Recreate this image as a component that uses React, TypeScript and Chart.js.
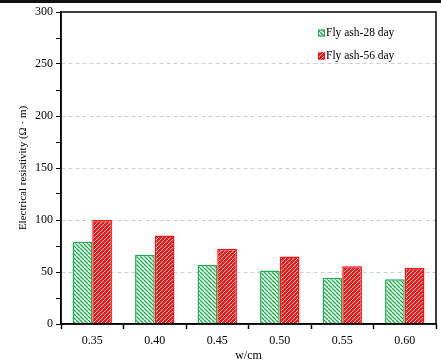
import React, { useEffect, useRef } from "react";
import { Chart, registerables } from "chart.js";

Chart.register(...registerables);

const categories = ["0.35", "0.40", "0.45", "0.50", "0.55", "0.60"];
const day28 = [79, 66.5, 57, 51.5, 44.5, 43];
const day56 = [100, 85, 72, 65, 55.5, 54];
const seriesLabels = ["Fly ash-28 day", "Fly ash-56 day"];
const yMin = 0;
const yMax = 300;
const yStep = 25;
const yLabelStep = 50;
const xTitle = "w/cm";
const yTitle = "Electrical resistivity (Ω · m)";

const GREEN = "#1eae4e";
const RED = "#ff1010";
const FONT = "'Liberation Serif', 'Times New Roman', serif";

function makePattern(bg: string, fg: string, dir: "\\" | "/", lw: number) {
  const c = document.createElement("canvas");
  c.width = 4;
  c.height = 4;
  const ctx = c.getContext("2d")!;
  ctx.fillStyle = bg;
  ctx.fillRect(0, 0, 4, 4);
  ctx.strokeStyle = fg;
  ctx.lineWidth = lw;
  ctx.beginPath();
  for (const o of [-4, 0, 4]) {
    if (dir === "\\") {
      ctx.moveTo(o, 0);
      ctx.lineTo(o + 4, 4);
    } else {
      ctx.moveTo(o, 4);
      ctx.lineTo(o + 4, 0);
    }
  }
  ctx.stroke();
  return ctx.createPattern(c, "repeat")!;
}

export default function App() {
  const ref = useRef<HTMLCanvasElement | null>(null);

  useEffect(() => {
    document.body.style.margin = "0";
    const canvas = ref.current!;
    const greenPat = makePattern("#f2fbf5", GREEN, "\\", 1.3);
    const redPat = makePattern(RED, "#ffffff", "/", 0.9);
    const fills = [greenPat, redPat];
    const borders = [GREEN, RED];

    const framePlugin = {
      id: "frameLegend",
      afterDraw(chart: any) {
        const { ctx, chartArea } = chart;
        const { left, right, top, bottom } = chartArea;
        ctx.save();
        ctx.strokeStyle = "#000";
        ctx.lineWidth = 1.5;
        ctx.strokeRect(left, top, right - left, bottom - top);
        // legend
        const lx = left + 257;
        const ys = [top + 21, top + 44];
        ctx.font = `11.5px ${FONT}`;
        ctx.textBaseline = "middle";
        ctx.textAlign = "left";
        seriesLabels.forEach((lab, i) => {
          const y = ys[i];
          ctx.fillStyle = fills[i];
          ctx.fillRect(lx, y - 3.5, 7, 7);
          ctx.strokeStyle = borders[i];
          ctx.lineWidth = 1;
          ctx.strokeRect(lx + 0.5, y - 3, 6, 6);
          ctx.fillStyle = "#000";
          ctx.fillText(lab, lx + 8, y);
        });
        ctx.restore();
      },
    };

    const chart = new Chart(canvas, {
      type: "bar",
      data: {
        labels: categories,
        datasets: [
          {
            label: seriesLabels[0],
            data: day28,
            backgroundColor: greenPat as any,
            borderColor: GREEN,
            borderWidth: 1.5,
          },
          {
            label: seriesLabels[1],
            data: day56,
            backgroundColor: redPat as any,
            borderColor: RED,
            borderWidth: 1.5,
          },
        ],
      },
      options: {
        animation: false,
        responsive: false,
        maintainAspectRatio: false,
        layout: { padding: { top: 12, right: 5, left: 0, bottom: 0 } },
        datasets: { bar: { categoryPercentage: 0.63, barPercentage: 1 } },
        plugins: { legend: { display: false }, tooltip: { enabled: false } },
        scales: {
          x: {
            type: "category",
            offset: true,
            grid: {
              offset: true,
              drawOnChartArea: false,
              drawTicks: true,
              tickLength: 5,
              tickColor: "#000",
              tickWidth: 1.5,
            },
            border: { display: true, color: "#000", width: 1.5 },
            ticks: { color: "#000", font: { family: FONT, size: 12 }, padding: 5 },
            title: {
              display: true,
              text: xTitle,
              color: "#000",
              font: { family: FONT, size: 12, lineHeight: 1.1 },
              padding: { top: 0, bottom: 0 },
            },
            afterFit: (s: any) => {
              s.height = 38;
            },
          },
          y: {
            min: yMin,
            max: yMax,
            grid: {
              drawOnChartArea: true,
              drawTicks: true,
              tickLength: 5,
              tickColor: "#000",
              tickWidth: 1,
              lineWidth: 1,
              color: (c: any) => {
                const v = c.tick ? c.tick.value : 0;
                return v % yLabelStep === 0 && v > yMin && v < yMax ? "#cfcfcf" : "rgba(0,0,0,0)";
              },
            },
            border: { display: true, color: "#000", width: 1.5, dash: [4, 3] },
            ticks: {
              stepSize: yStep,
              color: "#000",
              font: { family: FONT, size: 12 },
              padding: 3,
              callback: (v: any) => (Number(v) % yLabelStep === 0 ? String(v) : ""),
            },
            title: {
              display: true,
              text: yTitle,
              color: "#000",
              font: { family: FONT, size: 11 },
              padding: { top: 17, bottom: 0 },
            },
            afterFit: (s: any) => {
              s.width = 61;
            },
          },
        },
      },
      plugins: [framePlugin],
    });
    return () => chart.destroy();
  }, []);

  return (
    <div style={{ position: "relative", width: 441, height: 362, background: "#fff" }}>
      <canvas ref={ref} width={441} height={362} style={{ position: "absolute", left: 0, top: 0 }} />
      <div style={{ position: "absolute", left: 0, top: 0, width: 441, height: 3, background: "#111" }} />
    </div>
  );
}
